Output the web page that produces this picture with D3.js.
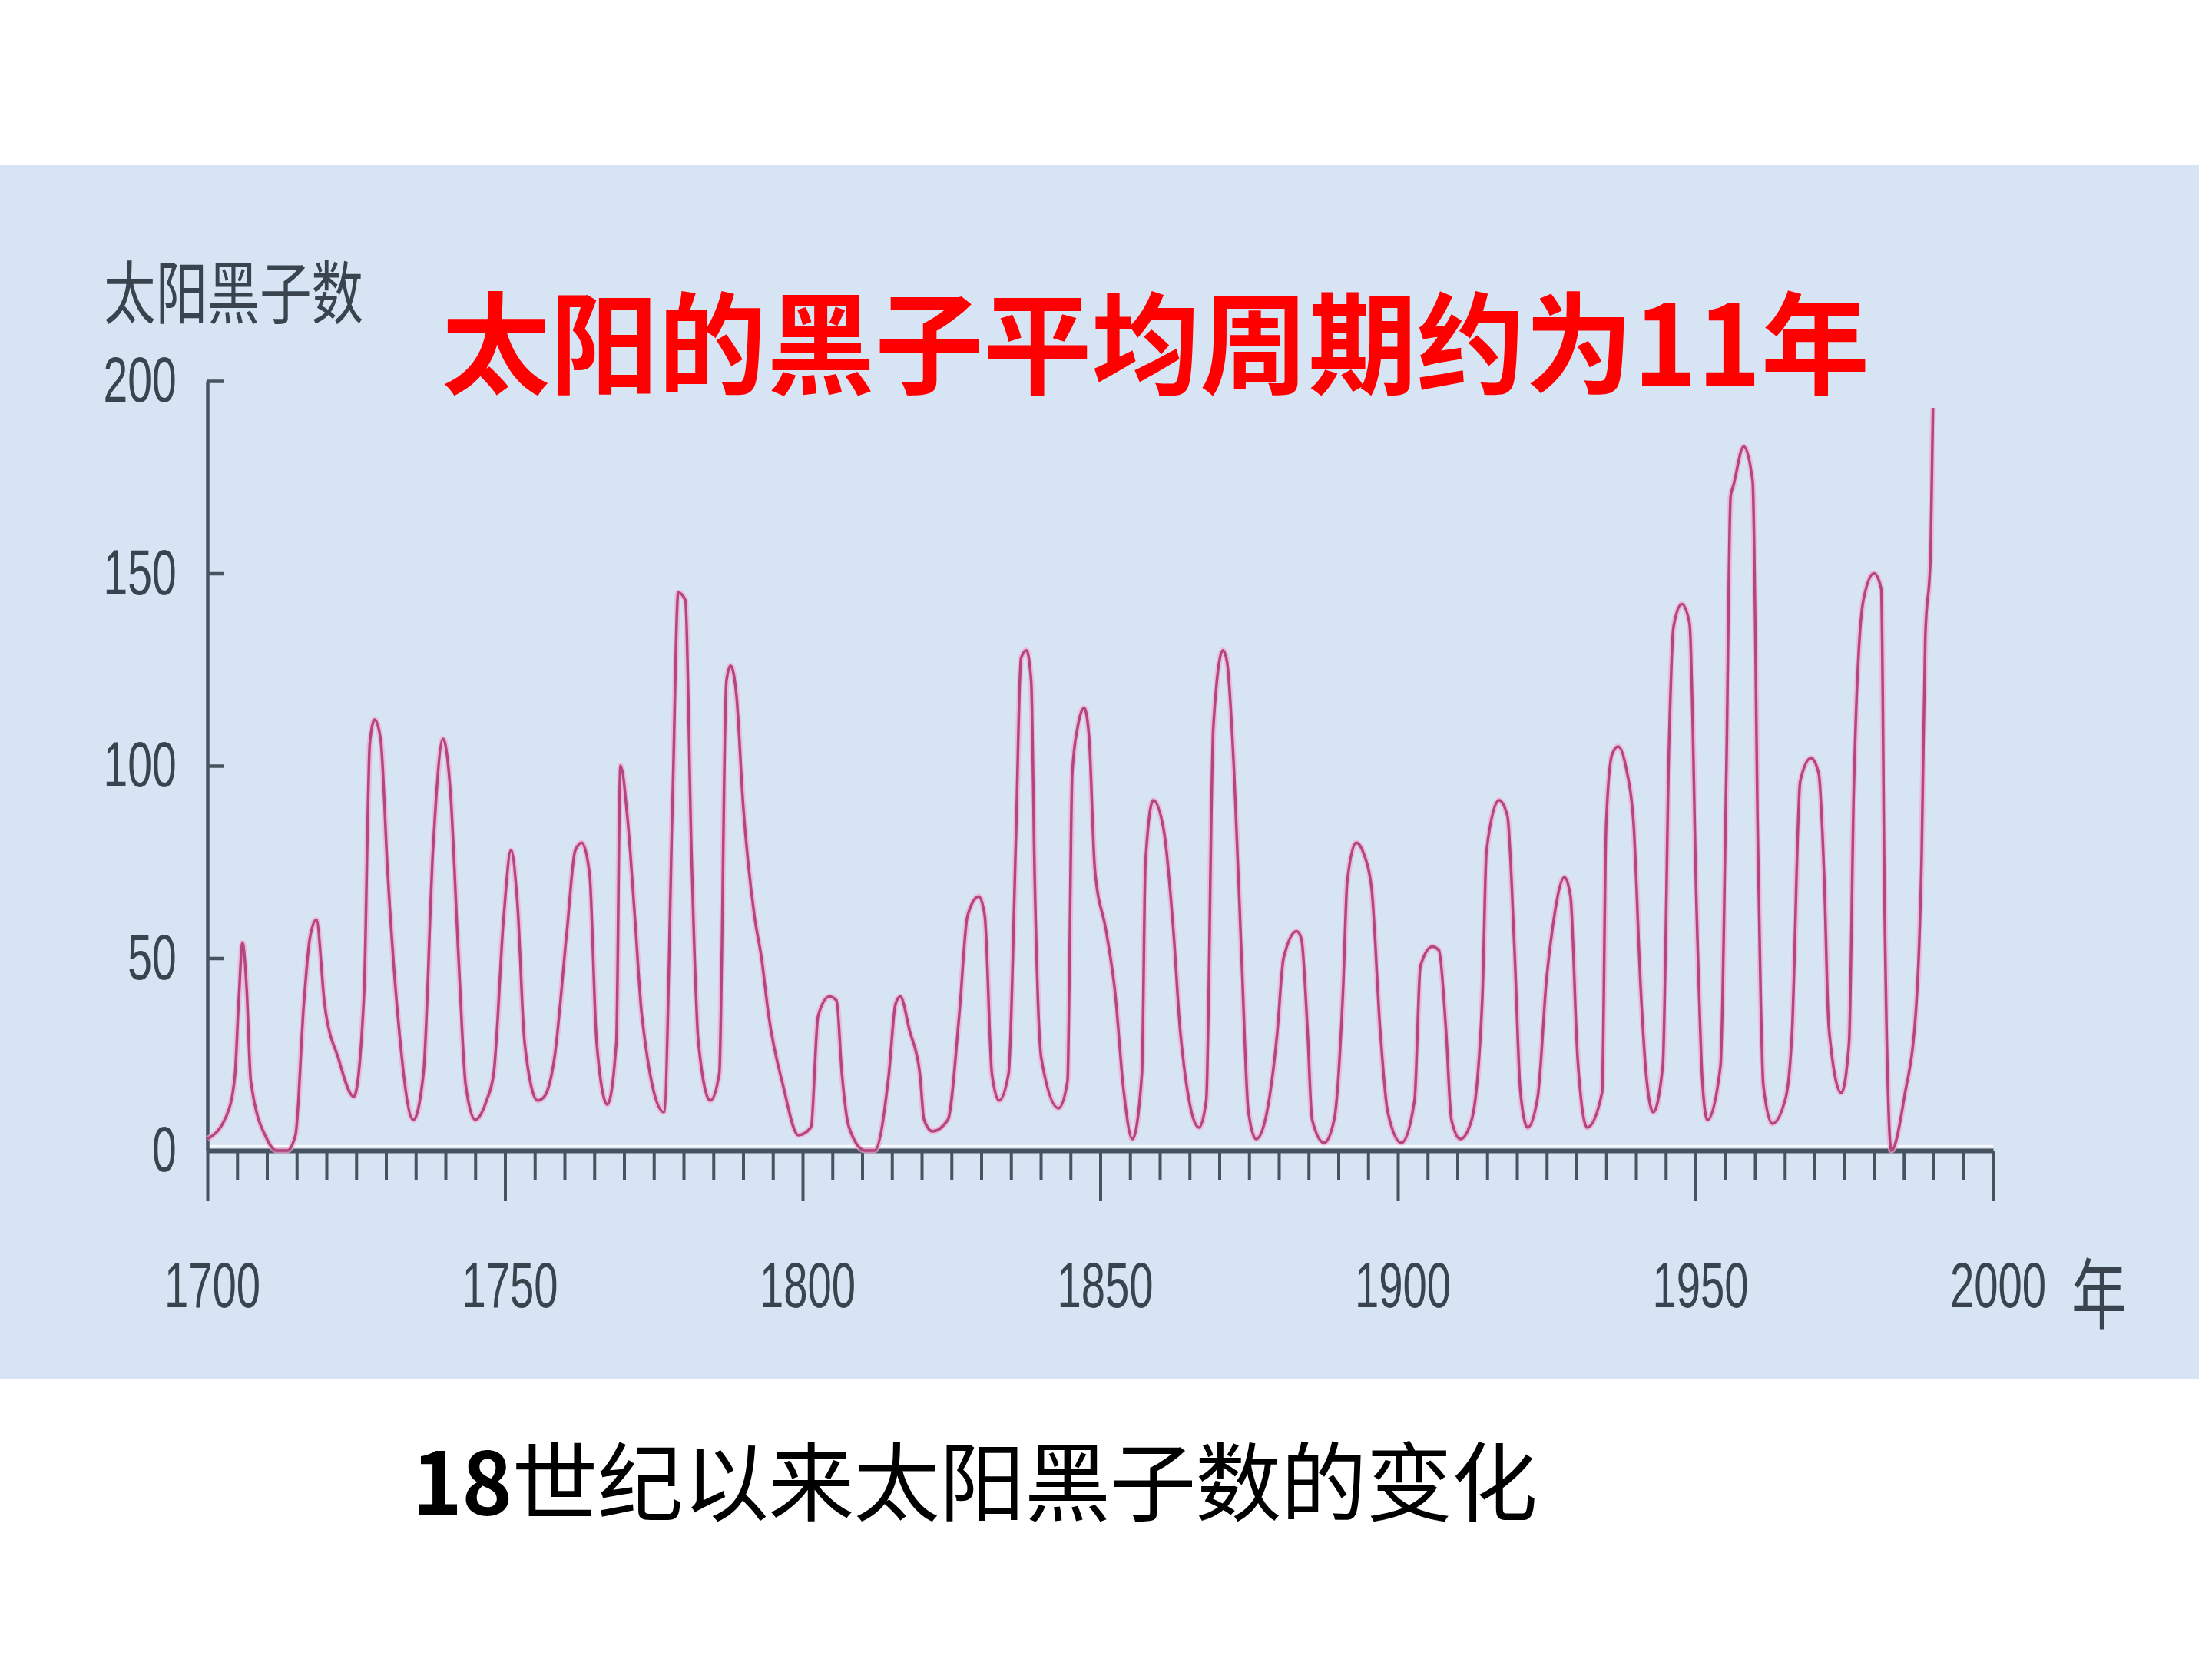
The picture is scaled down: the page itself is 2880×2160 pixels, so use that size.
<!DOCTYPE html>
<html>
<head>
<meta charset="utf-8">
<script src="https://cdn.jsdelivr.net/npm/d3@7"></script>
<style>
  body { margin: 0; background: #fff; }
  svg { display: block; }
</style>
</head>
<body>
<svg id="chart"></svg>
<script>
// values (year, sunspot number)
const years = [
  1700.0, 1703.2, 1704.6, 1705.3, 1705.9, 1706.6, 1707.3, 1710.0, 1711.6, 1713.4,
  1714.8, 1716.2, 1717.2, 1718.3, 1719.7, 1722.0, 1724.6, 1726.3, 1727.3, 1728.1,
  1729.1, 1730.3, 1732.0, 1734.6, 1736.3, 1737.9, 1739.6, 1740.8, 1742.2, 1743.4,
  1745.0, 1746.9, 1748.1, 1749.8, 1751.0, 1752.1, 1753.3, 1755.5, 1756.6, 1758.3,
  1760.4, 1761.8, 1762.9, 1764.2, 1765.4, 1767.2, 1768.7, 1769.4, 1770.6, 1771.8,
  1773.0, 1776.7, 1778.2, 1779.1, 1780.3, 1781.3, 1782.5, 1784.5, 1786.0, 1787.2,
  1787.9, 1788.9, 1790.0, 1791.9, 1793.1, 1794.3, 1796.7, 1799.3, 1801.4, 1802.6,
  1804.5, 1805.7, 1806.6, 1807.8, 1810.5, 1812.1, 1814.5, 1815.6, 1816.4, 1818.0,
  1819.7, 1820.4, 1821.8, 1824.4, 1826.3, 1827.7, 1829.6, 1830.6, 1831.8, 1833.0,
  1834.6, 1835.8, 1836.7, 1837.6, 1838.4, 1839.0, 1840.1, 1843.0, 1844.5, 1845.3,
  1846.2, 1847.3, 1848.1, 1849.1, 1851.0, 1852.5, 1853.9, 1855.4, 1857.0, 1857.6,
  1858.9, 1860.7, 1862.3, 1863.5, 1866.6, 1867.8, 1869.0, 1870.6, 1871.3, 1872.5,
  1873.8, 1874.9, 1876.2, 1878.0, 1879.7, 1880.8, 1883.0, 1883.8, 1884.8, 1885.6,
  1887.6, 1889.3, 1890.8, 1891.5, 1893.0, 1894.3, 1895.6, 1897.0, 1898.3, 1900.6,
  1902.8, 1903.8, 1905.8, 1906.9, 1908.1, 1909.0, 1910.5, 1912.4, 1914.2, 1914.9,
  1917.0, 1918.4, 1919.6, 1920.6, 1921.8, 1923.5, 1925.0, 1926.0, 1928.0, 1929.0,
  1930.2, 1931.8, 1934.3, 1935.0, 1936.0, 1937.0, 1938.4, 1939.6, 1940.8, 1941.7,
  1942.9, 1944.5, 1945.6, 1946.3, 1947.7, 1949.0, 1950.2, 1951.2, 1952.0, 1954.2,
  1955.2, 1955.9, 1956.4, 1958.1, 1959.6, 1960.5, 1961.4, 1962.9, 1965.2, 1966.2,
  1967.6, 1969.4, 1970.7, 1971.6, 1972.4, 1974.5, 1975.8, 1976.6, 1978.2, 1980.0,
  1981.2, 1981.8, 1982.9, 1985.1, 1987.1, 1988.0, 1988.6, 1989.5, 1989.9
]
const sunspots = [
  3, 9, 19, 40, 54, 42, 18, 3, 0, 0,
  4, 38, 55, 60, 38, 24, 14, 40, 106, 112,
  107, 72, 35, 8, 20, 78, 107, 94, 50, 17,
  8, 13, 20, 61, 78, 64, 28, 13, 14, 24,
  57, 78, 80, 72, 28, 12, 28, 100, 86, 61,
  35, 10, 94, 145, 143, 79, 28, 13, 20, 122,
  126, 118, 90, 61, 50, 35, 17, 4, 6, 35,
  40, 39, 20, 6, 0, 0, 20, 38, 40, 31,
  20, 8, 5, 8, 35, 61, 66, 61, 20, 13,
  20, 79, 128, 130, 122, 70, 24, 11, 18, 98,
  110, 115, 108, 73, 57, 41, 16, 3, 20, 75,
  91, 83, 57, 30, 6, 13, 110, 130, 127, 98,
  48, 10, 3, 10, 30, 50, 57, 55, 32, 8,
  2, 8, 42, 70, 80, 77, 68, 32, 10, 2,
  13, 48, 53, 52, 31, 8, 3, 8, 40, 78,
  91, 87, 52, 15, 6, 14, 45, 58, 71, 66,
  24, 6, 15, 85, 103, 105, 99, 85, 42, 20,
  10, 22, 108, 136, 142, 137, 62, 17, 8, 22,
  100, 170, 173, 183, 174, 79, 17, 7, 14, 30,
  96, 102, 98, 72, 32, 15, 28, 94, 143, 150,
  146, 60, 0, 14, 38, 77, 133, 155, 193
]

const yTicks = [0, 50, 100, 150, 200]
const xLabels = [1700, 1750, 1800, 1850, 1900, 1950, 2000]
const yTitle = '太阳黑子数'
const xUnit = '年'
const title = '太阳的黑子平均周期约为11年'
const caption = '18世纪以来太阳黑子数的变化'

const width = 2880
const height = 2160
const axisColor = '#47535e'
const textColor = '#39444e'

const svg = d3.select('#chart')
  .attr('width', width)
  .attr('height', height)

svg.append('rect')
  .attr('width', width)
  .attr('height', height)
  .attr('fill', '#ffffff')

// light blue panel
svg.append('rect')
  .attr('x', 0)
  .attr('y', 215)
  .attr('width', 2863)
  .attr('height', 1581)
  .attr('fill', '#d6e4f3')

let x = d3.scaleLinear().domain([1700, 2000]).range([270, 2595])
let y = d3.scaleLinear().domain([0, 200]).range([1498, 496])

// faint white halo above the x axis
svg.append('line')
  .attr('x1', x(1700))
  .attr('x2', x(2000))
  .attr('y1', y(0) - 6)
  .attr('y2', y(0) - 6)
  .attr('stroke', '#ffffff')
  .attr('stroke-width', 2.5)
  .attr('opacity', 0.85)

// x axis: ticks every 5 years, long ones every 50
let minorYears = d3.range(1700, 2001, 5)

let xAxis = d3.axisBottom(x)
  .tickValues(minorYears)
  .tickSize(38)
  .tickSizeOuter(0)
  .tickPadding(106)
  .tickFormat(d => (xLabels.includes(d) ? d : ''))

let xg = svg.append('g')
  .attr('transform', `translate(0,${y(0)})`)
  .call(xAxis)

xg.select('.domain')
  .attr('stroke', axisColor)
  .attr('stroke-width', 6)

xg.selectAll('.tick line')
  .attr('stroke', axisColor)
  .attr('stroke-width', 4)
  .attr('y2', d => (xLabels.includes(d) ? 66 : 38))

xg.selectAll('.tick text')
  .attr('fill', textColor)
  .attr('font-family', 'Liberation Sans, Arial, sans-serif')
  .attr('font-size', 84)
  .attr('transform', 'translate(6,0) scale(0.67,1)')

// y axis with inward ticks
let yAxis = d3.axisLeft(y)
  .tickValues(yTicks)
  .tickSize(-22)
  .tickSizeOuter(0)
  .tickPadding(59)

let yg = svg.append('g')
  .attr('transform', `translate(${x(1700)},0)`)
  .call(yAxis)

yg.select('.domain')
  .attr('stroke', axisColor)
  .attr('stroke-width', 4.5)

yg.selectAll('.tick line')
  .attr('stroke', axisColor)
  .attr('stroke-width', 4.5)

yg.selectAll('.tick text')
  .attr('fill', textColor)
  .attr('font-family', 'Liberation Sans, Arial, sans-serif')
  .attr('font-size', 84)
  .attr('transform', 'scale(0.68,1)')

// sunspot curve
let points = d3.zip(years, sunspots)

let line = d3.line()
  .x(d => x(d[0]))
  .y(d => y(d[1]))
  .curve(d3.curveMonotoneX)

svg.append('path')
  .datum(points)
  .attr('d', line)
  .attr('fill', 'none')
  .attr('stroke', '#f3a9cf')
  .attr('stroke-width', 7.5)
  .attr('stroke-linejoin', 'round')
  .attr('opacity', 0.7)

svg.append('path')
  .datum(points)
  .attr('d', line)
  .attr('fill', 'none')
  .attr('stroke', '#b3467f')
  .attr('stroke-width', 3.5)
  .attr('stroke-linejoin', 'round')

// axis titles
svg.append('text')
  .attr('transform', 'translate(135,414) scale(0.76,1)')
  .attr('font-family', 'Noto Sans CJK SC, sans-serif')
  .attr('font-size', 89)
  .attr('fill', textColor)
  .text(yTitle)

svg.append('text')
  .attr('transform', 'translate(2697,1722) scale(0.72,1)')
  .attr('font-family', 'Noto Sans CJK SC, sans-serif')
  .attr('font-size', 100)
  .attr('fill', textColor)
  .text(xUnit)

// red headline
svg.append('text')
  .attr('x', 575)
  .attr('y', 502)
  .attr('font-family', 'Noto Sans CJK SC, sans-serif')
  .attr('font-weight', 700)
  .attr('font-size', 144)
  .attr('fill', '#ff0000')
  .attr('textLength', 1859)
  .attr('lengthAdjust', 'spacingAndGlyphs')
  .text(title)

// caption below the panel, digits heavier than the characters
let cap = svg.append('text')
  .attr('x', 536)
  .attr('y', 1972)
  .attr('font-family', 'Noto Sans CJK SC, sans-serif')
  .attr('font-size', 112)
  .attr('fill', '#000000')
  .attr('textLength', 1466)
  .attr('lengthAdjust', 'spacing')

cap.append('tspan')
  .attr('font-weight', 700)
  .text(caption.slice(0, 2))

cap.append('tspan')
  .text(caption.slice(2))
</script>
</body>
</html>
